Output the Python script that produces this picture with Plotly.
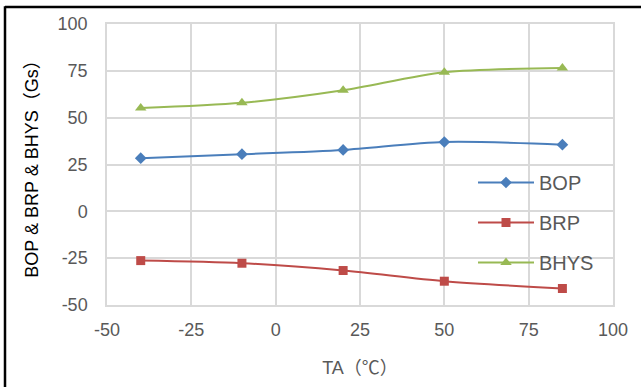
import plotly.graph_objects as go

ta = [-40, -10, 20, 50, 85]
bop = [28.4, 30.5, 32.8, 37.0, 35.6]
brp = [-26.3, -27.7, -31.6, -37.3, -41.2]
bhys = [55.1, 57.9, 64.6, 74.2, 76.5]
tick_vals = [-50, -25, 0, 25, 50, 75, 100]
tick_text = ["-50", "-25", "0", "25", "50", "75", "100"]

series = [
    ("BOP", bop, "#4A7EBB", "diamond", 9),
    ("BRP", brp, "#BE4B48", "square", 9),
    ("BHYS", bhys, "#98B954", "triangle-up", 10),
]

FONT = "Liberation Sans, Arial, Noto Sans CJK SC, sans-serif"
fig = go.Figure()
for name, vals, col, sym, sz in series:
    fig.add_trace(go.Scatter(
        x=ta, y=vals, name=name, mode="lines+markers",
        line=dict(color=col, width=2, shape="spline", smoothing=0.8),
        marker=dict(symbol=sym, size=sz, color=col),
        legendgroup=name,
    ))

W, H = 641, 387
L, R, T, B = 107, 28, 24, 80
pw, ph = W - L - R, H - T - B

def px(xp):
    return (xp - L) / pw

def py(yp):
    return (H - B - yp) / ph

fig.update_layout(
    width=W, height=H,
    margin=dict(l=L, r=R, t=T, b=B),
    paper_bgcolor="white", plot_bgcolor="white",
    font=dict(family=FONT, size=18, color="#595959"),
    showlegend=True,
    legend=dict(
        x=px(473), y=py(164), xanchor="left", yanchor="top",
        bgcolor="rgba(0,0,0,0)", font=dict(size=20, color="#595959"),
        traceorder="grouped", tracegroupgap=11, itemwidth=56,
    ),
    xaxis=dict(
        range=[-50, 100], tickvals=tick_vals, ticktext=tick_text, showgrid=True,
        gridcolor="#D9D9D9", gridwidth=1.5, zeroline=False,
        showline=True, linecolor="#D9D9D9", linewidth=1.5, mirror=True,
        ticks="", ticklabelstandoff=8,
        tickfont=dict(size=18, color="#595959"),
        title=dict(text="TA（℃）", font=dict(size=18, color="#595959"), standoff=22),
    ),
    yaxis=dict(
        range=[-50, 100], tickvals=tick_vals, ticktext=tick_text, showgrid=True,
        gridcolor="#D9D9D9", gridwidth=1.5, zeroline=False,
        showline=True, linecolor="#D9D9D9", linewidth=1.5, mirror=True,
        ticks="", ticklabelstandoff=14,
        tickfont=dict(size=18, color="#595959"),
        title=dict(text="BOP & BRP & BHYS（Gs）", font=dict(size=18, color="#000000"), standoff=14),
    ),
)

# outer frame lines (top and left)
fig.add_shape(type="line", xref="paper", yref="paper",
              x0=px(5), x1=px(W + 5), y0=py(7), y1=py(7),
              line=dict(color="black", width=2.5))
fig.add_shape(type="line", xref="paper", yref="paper",
              x0=px(5), x1=px(5), y0=py(6), y1=py(H + 5),
              line=dict(color="black", width=2.5))

fig.write_html("out.html", config={"displayModeBar": False},
               post_script="document.body.style.margin='0';")
